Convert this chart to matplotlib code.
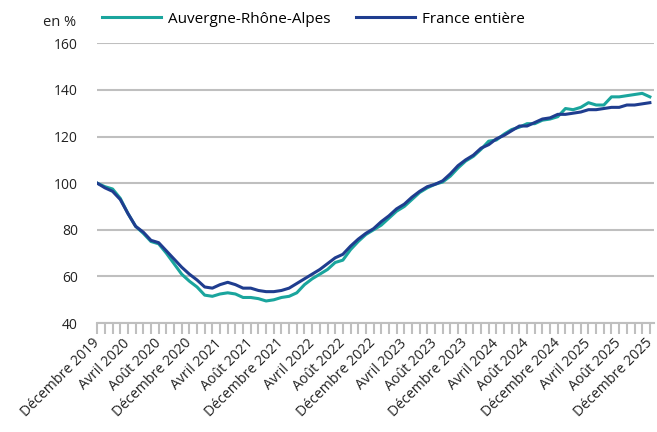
import numpy as np
import matplotlib.pyplot as plt

plt.rcParams['font.family'] = ['Open Sans', 'DejaVu Sans']

# Monthly index, December 2019 = 100
tick_labels = ['Décembre 2019']
for a in range(2020, 2026):
    tick_labels += ['Avril %d' % a, 'Août %d' % a, 'Décembre %d' % a]

ara = [100, 98.5, 97.5, 93.5, 87, 81.5, 78.5, 75, 74, 70, 65.5, 61, 58,
       55.5, 52, 51.5, 52.5, 53, 52.5, 51, 51, 50.5, 49.5, 50, 51,
       51.5, 53, 56.5, 59, 61, 63, 66, 67, 71.5, 75, 78, 80,
       82, 85, 88, 90, 93, 96, 98, 99.5, 100.5, 103, 106.5, 109.5,
       111.5, 114.5, 118, 118.5, 121, 123, 124, 125.5, 125.5, 127, 127.5, 128.5,
       132, 131.5, 132.5, 134.5, 133.5, 133.5, 137, 137, 137.5, 138, 138.5, 137]

france = [100, 98, 96.5, 93, 87, 81.5, 79, 75.5, 74.5, 71, 67.5, 64, 61,
          58.5, 55.5, 55, 56.5, 57.5, 56.5, 55, 55, 54, 53.5, 53.5, 54,
          55, 57, 59, 61, 63, 65.5, 68, 69.5, 73, 76, 78.5, 80.5,
          83.5, 86, 89, 91, 94, 96.5, 98.5, 99.5, 101, 104, 107.5, 110,
          112, 115, 116.5, 119, 120.5, 122.5, 124.5, 124.5, 126, 127.5, 128, 129.5,
          129.5, 130, 130.5, 131.5, 131.5, 132, 132.5, 132.5, 133.5, 133.5, 134, 134.5]

x = np.arange(len(ara))

fig = plt.figure(figsize=(6.57, 4.32), dpi=100)
ax = fig.add_axes([0.148, 0.252, 0.847, 0.648])

ax.plot(x, ara, color='#1AA59D', lw=2.2, label='Auvergne-Rhône-Alpes', zorder=3)
ax.plot(x, france, color='#1F3D8F', lw=2.2, label='France entière', zorder=4)

ax.set_ylim(40, 160)
ax.set_xlim(0, 72.5)
ax.set_yticks(range(40, 161, 20))
ax.yaxis.grid(True, color='#BFBFBF', lw=1.5)
ax.set_axisbelow(True)
for s in ['top', 'right', 'left']:
    ax.spines[s].set_visible(False)
ax.spines['bottom'].set_color('#BFBFBF')
ax.spines['bottom'].set_linewidth(1.5)

ax.set_xticks(x, minor=True)
ax.set_xticks(x[::4])
ax.set_xticklabels(tick_labels, rotation=45, ha='right', va='center',
                   rotation_mode='anchor')
ax.tick_params(axis='x', which='both', length=8, width=1.5, color='#BFBFBF',
               labelsize=10.2, pad=5, labelcolor='#222222')
ax.tick_params(axis='y', length=0, labelsize=10, pad=14, labelcolor='#222222')

fig.text(0.116, 0.949, 'en %', ha='right', va='center', fontsize=10.5, color='#222222')
fig.legend(*ax.get_legend_handles_labels(), loc='center left',
           bbox_to_anchor=(0.155, 0.956), ncol=2, frameon=False,
           fontsize=11, handlelength=3.85, handletextpad=0.45, columnspacing=1.7,
           borderpad=0, borderaxespad=0)

fig.savefig('out.png', dpi=100)
